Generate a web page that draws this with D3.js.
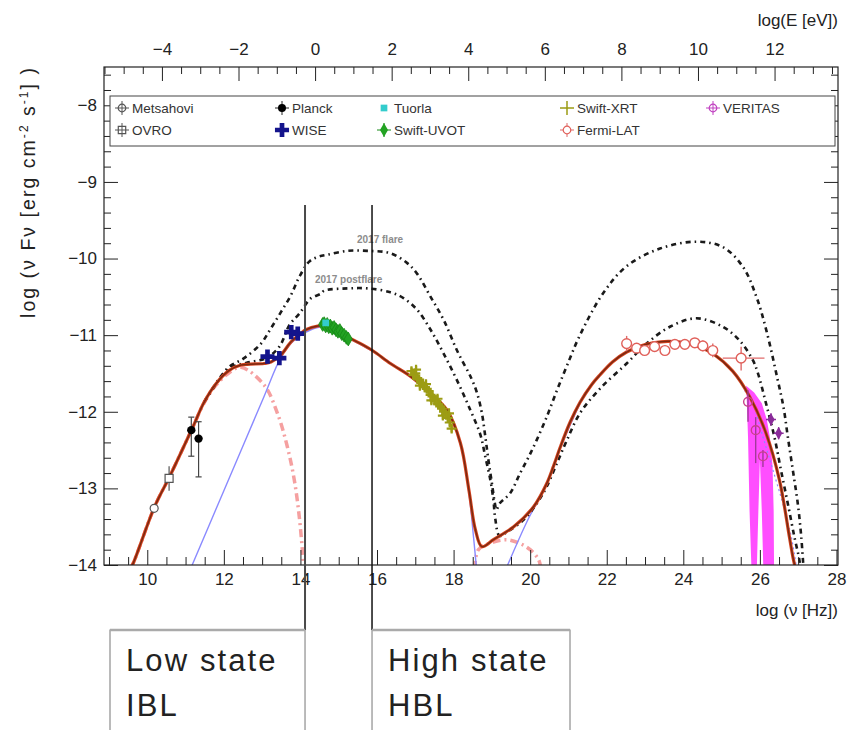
<!DOCTYPE html>
<html><head><meta charset="utf-8">
<script src="https://cdn.jsdelivr.net/npm/d3@7"></script>
<style>body{margin:0;background:#fff}svg{display:block}</style>
</head><body>
<svg id="c" width="851" height="730"></svg>
<script>
// ---------- spectral energy distribution: log(nu) [Hz] vs log(nu F_nu) ----------
// total model (synchrotron + SSC of both components)
const modelNu  = [9.55,9.63,10.19,10.58,10.93,11.19,11.49,11.80,12.14,12.45,13.05,13.23,13.49,13.75,14.01,14.14,14.45,14.71,15.14,15.49,15.88,16.35,16.88,17.40,17.83,18.18,18.40,18.57,18.74,19.04,19.57,20.09,20.43,20.61,20.78,21.04,21.30,21.60,21.82,22.15,22.52,22.90,23.21,23.60,24.08,24.50,24.77,25.29,25.73,26.16,26.51,26.77,26.86,26.93];
const modelLog = [-14.05,-13.98,-13.24,-12.85,-12.48,-12.20,-11.87,-11.63,-11.46,-11.39,-11.37,-11.35,-11.26,-11.09,-10.98,-10.93,-10.88,-10.88,-11.00,-11.09,-11.20,-11.37,-11.54,-11.76,-11.98,-12.41,-13.02,-13.54,-13.76,-13.67,-13.50,-13.24,-12.94,-12.71,-12.47,-12.14,-11.88,-11.65,-11.52,-11.35,-11.22,-11.14,-11.10,-11.08,-11.10,-11.17,-11.24,-11.47,-11.80,-12.28,-12.89,-13.63,-13.89,-14.05];
// first (low-energy) component
const synch1Nu  = [9.55,9.63,10.19,10.58,10.93,11.19,11.49,11.80,12.14,12.45,13.05,13.40,13.66,13.84,13.97,14.05,14.09];
const synch1Log = [-14.05,-13.98,-13.24,-12.85,-12.48,-12.20,-11.88,-11.65,-11.49,-11.42,-11.65,-12.02,-12.46,-12.89,-13.37,-13.80,-14.05];
const ssc1Nu  = [18.55,18.65,19.04,19.39,19.74,20.00,20.22,20.28];
const ssc1Log = [-14.05,-13.80,-13.70,-13.67,-13.72,-13.80,-13.93,-14.05];
// second (high-energy) component
const synch2Nu  = [11.13,12.00,13.00,13.49,13.75,14.01,14.45,14.71,15.14,15.88,16.88,17.83,18.18,18.40,18.52,18.60];
const synch2Log = [-14.05,-13.03,-11.86,-11.29,-11.11,-11.00,-10.90,-10.90,-11.01,-11.21,-11.55,-11.99,-12.43,-13.06,-13.63,-14.05];
const ssc2Nu  = [19.37,19.95,20.43,20.78,21.30];
const ssc2Log = [-14.05,-13.40,-12.95,-12.48,-11.89];
// model before EBL absorption at the highest energies
const intrNu  = [25.60,25.81,26.08,26.34,26.60,26.82,26.96];
const intrLog = [-11.72,-11.89,-12.33,-12.76,-13.20,-13.63,-14.05];
// 2017 flare and post-flare models
const flareNu  = [11.49,12.10,12.53,12.97,13.23,13.49,13.75,13.97,14.23,14.45,14.71,15.23,15.75,16.35,16.79,17.05,17.40,17.74,18.09,18.46,18.61,18.74,18.83,18.91,19.00,19.08,19.12,19.20,19.48,19.74,19.96,20.17,20.43,20.70,20.96,21.30,21.91,22.52,23.39,24.34,25.03,25.56,25.91,26.17,26.45,26.62,26.73,26.86,26.99,27.08,27.14];
const flareLog = [-11.87,-11.43,-11.30,-11.11,-10.91,-10.70,-10.48,-10.24,-10.04,-9.98,-9.95,-9.90,-9.90,-9.93,-10.06,-10.20,-10.50,-10.80,-11.20,-11.56,-11.75,-12.02,-12.33,-12.63,-12.93,-13.20,-13.28,-13.20,-13.06,-12.80,-12.59,-12.37,-12.07,-11.72,-11.40,-11.00,-10.45,-10.10,-9.87,-9.78,-9.85,-10.11,-10.50,-10.94,-11.55,-11.95,-12.33,-12.76,-13.20,-13.63,-14.05];
const postNu  = [11.49,12.14,12.60,13.10,13.45,13.71,13.97,14.27,14.53,14.62,15.23,15.75,16.35,16.70,17.05,17.40,17.74,18.09,18.44,18.70,18.83,18.96,19.04,19.09,19.20,19.39,19.83,20.17,20.43,20.70,20.96,21.30,21.82,22.52,23.04,23.65,24.34,25.03,25.47,25.82,25.95,26.16,26.38,26.55,26.73,26.90,27.03,27.06];
const postLog = [-11.87,-11.44,-11.36,-11.30,-11.15,-10.87,-10.72,-10.52,-10.46,-10.42,-10.39,-10.39,-10.44,-10.52,-10.67,-10.93,-11.24,-11.59,-11.98,-12.30,-12.59,-12.89,-13.15,-13.40,-13.62,-13.57,-13.41,-13.20,-12.98,-12.67,-12.37,-12.02,-11.70,-11.37,-11.11,-10.89,-10.78,-10.89,-11.07,-11.33,-11.50,-11.89,-12.33,-12.76,-13.20,-13.63,-13.93,-14.05];

// observations
const metsahoviNu = [10.18], metsahoviLog = [-13.26];
const ovroNu = [10.57], ovroLog = [-12.87], ovroErr = [0.16];
const planckNu = [11.15, 11.34], planckLog = [-12.24, -12.35];
const planckErrLo = [0.34, 0.50], planckErrHi = [0.17, 0.22];
const wiseNu = [13.14, 13.45, 13.76, 13.93], wiseLog = [-11.28, -11.30, -10.96, -10.98];
const tuorlaNu = [14.66], tuorlaLog = [-10.84];
const uvotNu  = [14.58,14.62,14.66,14.70,14.74,14.78,14.83,14.88,14.93,14.98,15.03,15.08,15.14,15.20,15.25];
const uvotLog = [-10.86,-10.85,-10.88,-10.86,-10.89,-10.88,-10.91,-10.90,-10.93,-10.95,-10.94,-10.98,-11.00,-11.03,-11.05];
const xrtNu  = [16.90,16.95,17.00,17.02,17.05,17.10,17.12,17.15,17.20,17.25,17.28,17.30,17.35,17.40,17.42,17.45,17.50,17.55,17.58,17.60,17.65,17.70,17.72,17.75,17.80,17.85,17.88,17.90,17.95];
const xrtLog = [-11.47,-11.52,-11.50,-11.45,-11.56,-11.58,-11.66,-11.62,-11.64,-11.68,-11.64,-11.70,-11.73,-11.78,-11.85,-11.80,-11.85,-11.86,-11.83,-11.90,-11.93,-11.96,-12.05,-12.00,-12.04,-12.08,-12.02,-12.14,-12.22];
const fermiNu  = [22.52,22.78,22.99,23.25,23.52,23.78,24.04,24.30,24.51,24.77,25.51];
const fermiLog = [-11.11,-11.17,-11.20,-11.15,-11.20,-11.12,-11.12,-11.10,-11.14,-11.20,-11.30];
const fermiErrLo = [0.10,0.06,0.06,0.05,0.05,0.05,0.05,0.06,0.07,0.09,0.16];
const fermiErrHi = [0.10,0.06,0.06,0.05,0.05,0.05,0.05,0.06,0.07,0.09,0.15];
const fermiNuLo = [0,0,0,0,0,0,0,0,0,0,0.48], fermiNuHi = [0,0,0,0,0,0,0,0,0,0,0.61];
const veritasNu = [25.69, 25.89, 26.08], veritasLog = [-11.87, -12.24, -12.58];
const veritasErrLo = [0.26, 0.43, 0.14], veritasErrHi = [0.15, 0.17, 0.08];
const veritasUlNu = [26.29, 26.49], veritasUlLog = [-12.10, -12.28];
// VERITAS spectral uncertainty band (outline)
const bandNu  = [25.64,25.85,26.05,26.18,26.26,26.33,26.36,26.37,26.09,26.05,26.00,25.96,25.92,25.78,25.73,25.69,25.66];
const bandLog = [-11.66,-11.75,-11.89,-12.10,-12.33,-12.70,-13.30,-14.05,-14.05,-13.30,-12.63,-13.30,-14.05,-14.05,-13.30,-12.33,-11.89];

// axis ticks
const nuTicks = [10,12,14,16,18,20,22,24,26,28];
const eTicks = [-4,-2,0,2,4,6,8,10,12];
const fluxTicks = [-14,-13,-12,-11,-10,-9,-8];
// state boundaries
const stateNu = [14.12, 15.87];
const legendNames = [["Metsahovi","Planck","Tuorla","Swift-XRT","VERITAS"],["OVRO","WISE","Swift-UVOT","Fermi-LAT"]];

// ---------- layout ----------
const L = 104, R = 838, T = 67, B = 565;
const FONT = "'Liberation Sans', Arial, Helvetica, sans-serif";
const LOG_H_EV = 14.383; // log10(E/eV) = log10(nu/Hz) - 14.383
const svg = d3.select("#c");
svg.append("rect").attr("width", 851).attr("height", 730).attr("fill", "#fff");

const x = d3.scaleLinear().domain([8.87, 28.04]).range([L, R]);
const y = d3.scaleLinear().domain([-14, -7.5]).range([B, T]);
const xE = d3.scaleLinear().domain([8.87 - LOG_H_EV, 28.04 - LOG_H_EV]).range([L, R]);

svg.append("defs").append("clipPath").attr("id", "plot")
  .append("rect").attr("x", L).attr("y", T).attr("width", R - L).attr("height", B - T);

const zip = (a, b) => a.map((v, i) => [v, b[i]]);
const line = d3.line().x(d => x(d[0])).y(d => y(d[1])).curve(d3.curveCatmullRom.alpha(0.5));
const g = svg.append("g").attr("clip-path", "url(#plot)");

// VERITAS butterfly
g.append("path").attr("d", d3.line().x(d => x(d[0])).y(d => y(d[1]))(zip(bandNu, bandLog)) + "Z")
  .attr("fill", "#ff22ff").attr("fill-opacity", 0.8).attr("stroke", "none");

// model components
function curve(nu, lg, stroke, width, dash) {
  g.append("path").attr("d", line(zip(nu, lg))).attr("fill", "none")
    .attr("stroke", stroke).attr("stroke-width", width)
    .attr("stroke-dasharray", dash || null);
}
curve(synch1Nu, synch1Log, "#f5a0a0", 3.5, "8,4,2,4");
curve(ssc1Nu, ssc1Log, "#f5a0a0", 3.5, "8,4,2,4");
curve(synch2Nu, synch2Log, "#8a8aff", 1.4);
curve(ssc2Nu, ssc2Log, "#8a8aff", 1.4);
curve(intrNu, intrLog, "#8a8aff", 1.2, "2,3");
curve(flareNu, flareLog, "#1a1a1a", 2.6, "5,4,1.6,4");
curve(postNu, postLog, "#1a1a1a", 2.6, "5,4,1.6,4");
curve(modelNu, modelLog, "#d8441f", 3.2);
curve(modelNu, modelLog, "#7a2a12", 1.5);

// ---------- markers ----------
const mk = svg.append("g");
function errV(xv, y0, y1, color, w) {
  mk.append("line").attr("x1", x(xv)).attr("x2", x(xv)).attr("y1", y(y0)).attr("y2", y(y1))
    .attr("stroke", color).attr("stroke-width", w || 1.2);
}
function errH(x0, x1, yv, color, w) {
  mk.append("line").attr("x1", x(x0)).attr("x2", x(x1)).attr("y1", y(yv)).attr("y2", y(yv))
    .attr("stroke", color).attr("stroke-width", w || 1.2);
}
function sym(type, size, px, py, fill, stroke, sw) {
  mk.append("path").attr("d", d3.symbol().type(type).size(size)())
    .attr("transform", `translate(${px},${py})`)
    .attr("fill", fill).attr("stroke", stroke || "none").attr("stroke-width", sw || 1);
}
function plus(px, py, h, color, w) {
  mk.append("path").attr("d", `M${px - h},${py}H${px + h}M${px},${py - h}V${py + h}`)
    .attr("stroke", color).attr("stroke-width", w).attr("fill", "none");
}

metsahoviNu.forEach((n, i) => sym(d3.symbolCircle, 50, x(n), y(metsahoviLog[i]), "#fff", "#555", 1.2));
ovroNu.forEach((n, i) => {
  errV(n, ovroLog[i] - ovroErr[i], ovroLog[i] + ovroErr[i], "#555");
  sym(d3.symbolSquare, 64, x(n), y(ovroLog[i]), "#fff", "#555", 1.2);
});
planckNu.forEach((n, i) => {
  errV(n, planckLog[i] - planckErrLo[i], planckLog[i] + planckErrHi[i], "#444");
  errH(n - 0.08, n + 0.08, planckLog[i] + planckErrHi[i], "#444");
  errH(n - 0.08, n + 0.08, planckLog[i] - planckErrLo[i], "#444");
  sym(d3.symbolCircle, 55, x(n), y(planckLog[i]), "#000");
});
wiseNu.forEach((n, i) => {
  errH(n - 0.13, n + 0.13, wiseLog[i], "#1a1a9a", 2);
  sym(d3.symbolCross, 110, x(wiseNu[i]), y(wiseLog[i]), "#14148c");
});
xrtNu.forEach((n, i) => {
  errV(n, xrtLog[i] - 0.05, xrtLog[i] + 0.05, "#a5a51a", 2.2);
  plus(x(n), y(xrtLog[i]), 5, "#9c9c14", 2.2);
});
uvotNu.forEach((n, i) => sym(d3.symbolDiamond, 55, x(n), y(uvotLog[i]), "#23a323", "#168a16", 0.8));
tuorlaNu.forEach((n, i) => sym(d3.symbolSquare, 45, x(n), y(tuorlaLog[i]), "#33cccc"));
fermiNu.forEach((n, i) => {
  errV(n, fermiLog[i] - fermiErrLo[i], fermiLog[i] + fermiErrHi[i], "#e06a6a", 1.4);
  if (fermiNuLo[i] > 0) errH(n - fermiNuLo[i], n + fermiNuHi[i], fermiLog[i], "#e06a6a", 1.4);
  sym(d3.symbolCircle, 75, x(n), y(fermiLog[i]), "#fff", "#e0605a", 1.4);
});
veritasNu.forEach((n, i) => {
  errV(n, veritasLog[i] - veritasErrLo[i], veritasLog[i] + veritasErrHi[i], "#a03a9a", 1.4);
  sym(d3.symbolCircle, 60, x(n), y(veritasLog[i]), "none", "#c8408c", 1.4);
});
veritasUlNu.forEach((n, i) => {
  errV(n, veritasUlLog[i] - 0.08, veritasUlLog[i] + 0.08, "#8a2c9a", 1.4);
  sym(d3.symbolDiamond, 45, x(n), y(veritasUlLog[i]), "#8a2c9a");
  plus(x(n), y(veritasUlLog[i]), 5, "#8a2c9a", 1.6);
});

// model labels
const lab = svg.append("g").attr("font-family", FONT).attr("font-size", 10)
  .attr("font-weight", "bold").attr("fill", "#8c8c8c");
lab.append("text").attr("x", 357).attr("y", 243).text("2017 flare");
lab.append("text").attr("x", 315).attr("y", 283).text("2017 postflare");

// ---------- axes ----------
const ax = svg.append("g").attr("font-family", FONT);
function style(sel) {
  sel.select(".domain").remove();
  sel.selectAll("line").attr("stroke", "#222").attr("stroke-width", 1);
  sel.selectAll("text").attr("font-family", FONT).attr("font-size", 17).attr("fill", "#222");
}
const range = (a, b, s) => d3.range(Math.round(a / s), Math.round(b / s) + 1).map(k => +(k * s).toFixed(3));
const nuMinor = range(9, 28, 0.5).filter(v => !nuTicks.includes(v));
const eMinor = range(-5.5, 13.5, 0.5).filter(v => !eTicks.includes(v) && xE(v) > L && xE(v) < R);
const fluxMinor = range(-14, -7.6, 0.2).filter(v => !fluxTicks.includes(v));

ax.append("g").attr("transform", `translate(0,${B})`)
  .call(d3.axisBottom(x).tickValues(nuTicks).tickSize(-15).tickPadding(8).tickFormat(d3.format("d"))).call(style);
ax.append("g").attr("transform", `translate(0,${B})`)
  .call(d3.axisBottom(x).tickValues(nuMinor).tickSize(-8).tickFormat("")).call(style);
ax.append("g").attr("transform", `translate(0,${T})`)
  .call(d3.axisTop(xE).tickValues(eTicks).tickSize(-14).tickPadding(12).tickFormat(d3.format("d"))).call(style);
ax.append("g").attr("transform", `translate(0,${T})`)
  .call(d3.axisTop(xE).tickValues(eMinor).tickSize(-7).tickFormat("")).call(style);
ax.append("g").attr("transform", `translate(${L},0)`)
  .call(d3.axisLeft(y).tickValues(fluxTicks).tickSize(-14).tickPadding(7).tickFormat(d3.format("d"))).call(style);
ax.append("g").attr("transform", `translate(${L},0)`)
  .call(d3.axisLeft(y).tickValues(fluxMinor).tickSize(-7).tickFormat("")).call(style);
ax.append("g").attr("transform", `translate(${R},0)`)
  .call(d3.axisRight(y).tickValues(fluxTicks).tickSize(-14).tickFormat("")).call(style);
ax.append("g").attr("transform", `translate(${R},0)`)
  .call(d3.axisRight(y).tickValues(fluxMinor).tickSize(-7).tickFormat("")).call(style);

svg.append("rect").attr("x", L).attr("y", T).attr("width", R - L).attr("height", B - T)
  .attr("fill", "none").attr("stroke", "#222").attr("stroke-width", 1.2);

// axis titles
ax.append("text").attr("x", R).attr("y", 616).attr("text-anchor", "end")
  .attr("font-size", 17).attr("fill", "#222").text("log (ν [Hz])");
ax.append("text").attr("x", R).attr("y", 26).attr("text-anchor", "end")
  .attr("font-size", 17).attr("fill", "#222").text("log(E [eV])");
const yt = ax.append("text").attr("transform", `translate(35,${T + 1}) rotate(-90)`)
  .attr("text-anchor", "end").attr("font-size", 19.5).attr("fill", "#222")
  .attr("textLength", 250).attr("lengthAdjust", "spacing");
yt.append("tspan").text("log (ν Fν [erg cm");
yt.append("tspan").attr("font-size", 12).attr("dy", -7).text("-2");
yt.append("tspan").attr("dy", 7).text(" s");
yt.append("tspan").attr("font-size", 12).attr("dy", -7).text("-1");
yt.append("tspan").attr("dy", 7).text("] )");

// ---------- legend ----------
const lg = svg.append("g").attr("font-family", FONT).attr("font-size", 13.5).attr("fill", "#333");
lg.append("rect").attr("x", 110).attr("y", 96).attr("width", 725).attr("height", 50)
  .attr("fill", "#fff").attr("stroke", "#444").attr("stroke-width", 1);
const colX = [122, 282, 384, 567, 713];
const rowY = [108, 130];
function legendMarker(name, cx, cy) {
  const m = lg.append("g").attr("transform", `translate(${cx},${cy})`);
  const bar = (c, w) => m.append("path").attr("d", "M-7,0H7M0,-7V7").attr("stroke", c).attr("stroke-width", w || 1).attr("fill", "none");
  const s = (type, size, fill, stroke) => m.append("path").attr("d", d3.symbol().type(type).size(size)())
    .attr("fill", fill).attr("stroke", stroke || "none").attr("stroke-width", 1.2);
  switch (name) {
    case "Metsahovi": bar("#555"); s(d3.symbolCircle, 45, "none", "#555"); break;
    case "OVRO": bar("#555"); s(d3.symbolSquare, 55, "none", "#555"); break;
    case "Planck": bar("#222"); s(d3.symbolCircle, 50, "#000"); break;
    case "WISE": s(d3.symbolCross, 110, "#14148c"); break;
    case "Tuorla": s(d3.symbolSquare, 45, "#33cccc"); break;
    case "Swift-UVOT": bar("#168a16"); s(d3.symbolDiamond, 55, "#23a323"); break;
    case "Swift-XRT": bar("#9c9c14", 1.5); break;
    case "Fermi-LAT": bar("#e06a6a"); s(d3.symbolCircle, 45, "#fff", "#e0605a"); break;
    case "VERITAS": bar("#c040c0"); s(d3.symbolCircle, 45, "none", "#c040c0"); break;
  }
}
legendNames.forEach((row, r) => row.forEach((name, c) => {
  legendMarker(name, colX[c], rowY[r]);
  lg.append("text").attr("x", colX[c] + 10).attr("y", rowY[r] + 5).text(name);
}));

// ---------- state annotations ----------
const ann = svg.append("g").attr("font-family", FONT);
ann.append("line").attr("x1", x(stateNu[0])).attr("x2", x(stateNu[0])).attr("y1", 205).attr("y2", 630)
  .attr("stroke", "#4a4a4a").attr("stroke-width", 2);
ann.append("line").attr("x1", x(stateNu[1])).attr("x2", x(stateNu[1])).attr("y1", 205).attr("y2", 630)
  .attr("stroke", "#111").attr("stroke-width", 1.5);
const boxes = [
  { x0: 110, x1: x(stateNu[0]), l1: "Low state", l2: "IBL" },
  { x0: x(stateNu[1]), x1: 570, l1: "High state", l2: "HBL" }
];
boxes.forEach(b => {
  ann.append("rect").attr("x", b.x0).attr("y", 630).attr("width", b.x1 - b.x0).attr("height", 110)
    .attr("fill", "#fff").attr("stroke", "#777").attr("stroke-width", 1);
  ann.append("line").attr("x1", b.x0).attr("x2", b.x1).attr("y1", 630).attr("y2", 630)
    .attr("stroke", "#aaa").attr("stroke-width", 2.5);
  const t = ann.append("text").attr("font-size", 31).attr("fill", "#222").attr("letter-spacing", 2.1);
  t.append("tspan").attr("x", b.x0 + 16).attr("y", 671).text(b.l1);
  t.append("tspan").attr("x", b.x0 + 16).attr("y", 716).text(b.l2);
});
</script>
</body></html>
